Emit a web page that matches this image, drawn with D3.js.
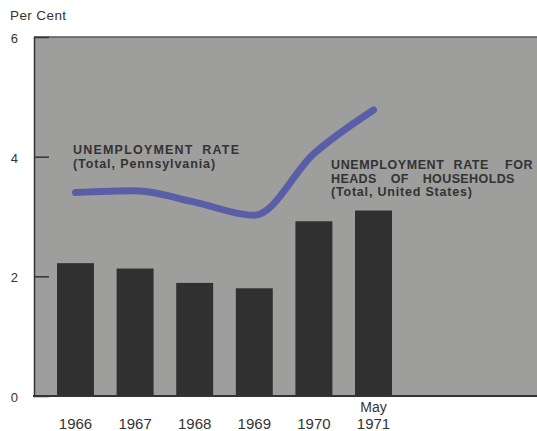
<!DOCTYPE html>
<html>
<head>
<meta charset="utf-8">
<script src="https://cdn.jsdelivr.net/npm/d3@7"></script>
<style>
  html, body { margin: 0; padding: 0; background: #ffffff; }
  svg { display: block; }
  text { font-family: "Liberation Sans", Arial, Helvetica, sans-serif; fill: #333; }
</style>
</head>
<body>
<svg id="chart" width="537" height="431"></svg>
<script>
// ---- data ----
const years = ["1966", "1967", "1968", "1969", "1970", "1971"];
const yearTopLabels = ["", "", "", "", "", "May"];
const headsUS = [2.22, 2.13, 1.89, 1.80, 2.92, 3.10];      // bars
const totalPA = [3.40, 3.43, 3.24, 3.02, 4.05, 4.78];      // line
const yTicks = [0, 2, 4, 6];

const svg = d3.select("#chart");
const plot = { left: 34, right: 537, top: 37, bottom: 396 };

const y = d3.scaleLinear().domain([0, 6]).range([plot.bottom, plot.top]);
const x = d3.scaleBand().domain(years).range([45.7, 403.3])
  .paddingInner(0.38).paddingOuter(0.19);

// background panel
svg.append("rect")
  .attr("x", plot.left).attr("y", plot.top)
  .attr("width", plot.right - plot.left).attr("height", plot.bottom - plot.top)
  .attr("fill", "#9e9e9c");

// top border
svg.append("line")
  .attr("x1", plot.left).attr("x2", plot.right)
  .attr("y1", plot.top).attr("y2", plot.top)
  .attr("stroke", "#555").attr("stroke-width", 1.5);

// bars
svg.append("g").selectAll("rect").data(years).join("rect")
  .attr("x", d => x(d))
  .attr("width", x.bandwidth())
  .attr("y", (d, i) => y(headsUS[i]))
  .attr("height", (d, i) => y(0) - y(headsUS[i]))
  .attr("fill", "#303030");

// line
const line = d3.line()
  .x((d, i) => x(years[i]) + x.bandwidth() / 2)
  .y(d => y(d))
  .curve(d3.curveMonotoneX);
svg.append("path")
  .datum(totalPA)
  .attr("d", line)
  .attr("fill", "none")
  .attr("stroke", "#5a5ea6")
  .attr("stroke-width", 7)
  .attr("stroke-linecap", "round");

// y axis (left border + inner ticks)
const yAxis = d3.axisRight(y).tickValues(yTicks).tickSize(15).tickFormat("");
const gy = svg.append("g").attr("transform", `translate(${plot.left},0)`).call(yAxis);
gy.select(".domain").attr("stroke", "#333").attr("stroke-width", 1.5);
gy.selectAll(".tick line").attr("stroke", "#333").attr("stroke-width", 1.5)
  .attr("display", d => (d === 0 || d === 6) ? "none" : null);

// y tick labels
svg.append("g").selectAll("text").data(yTicks).join("text")
  .attr("x", 18).attr("y", d => y(d))
  .attr("dy", "0.45em")
  .attr("text-anchor", "end")
  .attr("font-size", 13)
  .text(d => d);

// bottom axis line
svg.append("line")
  .attr("x1", plot.left - 1).attr("x2", plot.right)
  .attr("y1", plot.bottom).attr("y2", plot.bottom)
  .attr("stroke", "#333").attr("stroke-width", 2);

// x labels
const gx = svg.append("g");
gx.selectAll("text.yr").data(years).join("text")
  .attr("class", "yr")
  .attr("x", d => x(d) + x.bandwidth() / 2)
  .attr("y", 429)
  .attr("text-anchor", "middle")
  .attr("font-size", 15)
  .text(d => d);
gx.selectAll("text.top").data(years).join("text")
  .attr("class", "top")
  .attr("x", d => x(d) + x.bandwidth() / 2)
  .attr("y", 412)
  .attr("text-anchor", "middle")
  .attr("font-size", 14)
  .text((d, i) => yearTopLabels[i]);

// axis title
svg.append("text")
  .attr("x", 10).attr("y", 20)
  .attr("font-size", 13.5)
  .attr("letter-spacing", 0.4)
  .text("Per Cent");

// series labels
function label(lines, x0, baselines) {
  const t = svg.append("text").attr("font-weight", "bold").attr("font-size", 12.5);
  lines.forEach((l, i) => {
    t.append("tspan").attr("x", x0).attr("y", baselines[i])
      .attr("letter-spacing", l.ls).attr("word-spacing", l.ws)
      .text(l.text);
    if (l.tail) {
      t.append("tspan").attr("dx", l.tailDx)
        .attr("letter-spacing", l.ls).text(l.tail);
    }
  });
}
label([
  { text: "UNEMPLOYMENT RATE", ls: 1.2, ws: 4 },
  { text: "(Total, Pennsylvania)", ls: 0.9, ws: 0 }
], 73, [154, 168]);
label([
  { text: "UNEMPLOYMENT RATE", ls: 0.6, ws: 5, tail: "FOR", tailDx: 16 },
  { text: "HEADS OF HOUSEHOLDS", ls: 0.4, ws: 10 },
  { text: "(Total, United States)", ls: 0.8, ws: 0 }
], 331, [169, 183, 196]);
</script>
</body>
</html>
